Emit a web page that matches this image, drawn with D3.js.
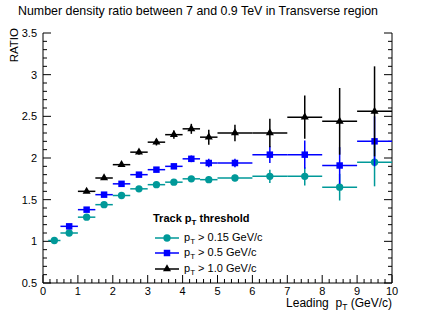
<!DOCTYPE html>
<html>
<head>
<style>
  body { margin: 0; background: #fff; }
  text { font-family: "Liberation Sans", Arial, Helvetica, sans-serif; fill: #000; }
</style>
</head>
<body>
<svg id="chart" width="436" height="316"></svg>
<script src="https://cdn.jsdelivr.net/npm/d3@7"></script>
<script>
// bin edges in leading pT (GeV/c)
const binEdges = [0.15, 0.5, 1, 1.5, 2, 2.5, 3, 3.5, 4, 4.5, 5, 6, 7, 8, 9, 10]

// ratio values per threshold, starting at a bin index
const tealStart = 0
const tealVals = [1.01, 1.10, 1.29, 1.44, 1.55, 1.63, 1.68, 1.71, 1.75, 1.74, 1.76, 1.78, 1.78, 1.65, 1.95]
const tealErr  = [0.01, 0.01, 0.015, 0.015, 0.02, 0.02, 0.02, 0.025, 0.03, 0.04, 0.04, 0.08, 0.11, 0.16, 0.29]

const blueStart = 1
const blueVals = [1.18, 1.38, 1.56, 1.69, 1.80, 1.86, 1.90, 1.99, 1.94, 1.94, 2.04, 2.04, 1.91, 2.20]
const blueErr  = [0.015, 0.02, 0.02, 0.025, 0.025, 0.03, 0.03, 0.04, 0.05, 0.05, 0.1, 0.17, 0.22, 0.3]

const blackStart = 2
const blackVals = [1.60, 1.76, 1.92, 2.07, 2.19, 2.28, 2.35, 2.25, 2.30, 2.30, 2.49, 2.44, 2.56]
const blackErr  = [0.02, 0.02, 0.025, 0.03, 0.04, 0.05, 0.06, 0.09, 0.1, 0.17, 0.26, 0.4, 0.54]

const legendLabels = ['> 0.15 GeV/c', '> 0.5 GeV/c', '> 1.0 GeV/c']

const svg = d3.select('#chart')

const x = d3.scaleLinear().domain([0, 10]).range([43, 392])
const y = d3.scaleLinear().domain([0.5, 3.5]).range([283, 33])

// title
svg.append('text')
  .attr('x', 18).attr('y', 15)
  .style('font-size', '12.4px')
  .text('Number density ratio between 7 and 0.9 TeV in Transverse region')

// axes (ROOT style, ticks inside)
const axisG = svg.append('g')

// bottom
axisG.append('line').attr('x1', x(0)).attr('x2', x(10)).attr('y1', y(0.5)).attr('y2', y(0.5)).attr('stroke', '#000')
d3.range(0, 10.001, 0.2).forEach(v => {
  const major = Math.abs(v - Math.round(v)) < 1e-6
  axisG.append('line')
    .attr('x1', x(v)).attr('x2', x(v))
    .attr('y1', y(0.5)).attr('y2', y(0.5) - (major ? 8 : 4))
    .attr('stroke', '#000')
})
d3.range(0, 11).forEach(v => {
  axisG.append('text')
    .attr('x', x(v)).attr('y', 295)
    .attr('text-anchor', 'middle')
    .style('font-size', '11px')
    .text(v)
})

// left + right
;[x(0), x(10)].forEach((px, side) => {
  axisG.append('line').attr('x1', px).attr('x2', px).attr('y1', y(0.5)).attr('y2', y(3.5)).attr('stroke', '#000')
  d3.range(5, 36).forEach(i => {
    const v = i / 10
    const major = i % 5 === 0
    const len = major ? 8 : 4
    axisG.append('line')
      .attr('x1', px).attr('x2', side === 0 ? px + len : px - len)
      .attr('y1', y(v)).attr('y2', y(v))
      .attr('stroke', '#000')
  })
})
;[0.5, 1, 1.5, 2, 2.5, 3, 3.5].forEach(v => {
  axisG.append('text')
    .attr('x', 37).attr('y', y(v) + 4)
    .attr('text-anchor', 'end')
    .style('font-size', '11px')
    .text(v)
})

// axis titles
svg.append('text')
  .attr('transform', 'translate(18,28) rotate(-90)')
  .attr('text-anchor', 'end')
  .style('font-size', '11.5px')
  .text('RATIO')

const xt = svg.append('text')
  .attr('x', 392).attr('y', 307)
  .attr('text-anchor', 'end')
  .style('font-size', '12px')
  .style('white-space', 'pre')
xt.append('tspan').text('Leading  p')
xt.append('tspan').attr('dy', 3).style('font-size', '8.5px').text('T')
xt.append('tspan').attr('dy', -3).text(' (GeV/c)')

// series
const series = [
  { start: tealStart, vals: tealVals, err: tealErr, color: '#009999', shape: d3.symbolCircle, size: 42 },
  { start: blueStart, vals: blueVals, err: blueErr, color: '#0000ff', shape: d3.symbolSquare, size: 42 },
  { start: blackStart, vals: blackVals, err: blackErr, color: '#000000', shape: d3.symbolTriangle, size: 28 }
]

series.forEach(s => {
  const pts = s.vals.map((v, i) => {
    const b = s.start + i
    return { lo: binEdges[b], hi: binEdges[b + 1], v: v, e: s.err[i] }
  })
  const g = svg.append('g')
  g.selectAll('line.h').data(pts).join('line')
    .attr('x1', d => x(d.lo)).attr('x2', d => x(d.hi))
    .attr('y1', d => y(d.v)).attr('y2', d => y(d.v))
    .attr('stroke', s.color).attr('stroke-width', 1.5)
  g.selectAll('line.v').data(pts).join('line')
    .attr('x1', d => x((d.lo + d.hi) / 2)).attr('x2', d => x((d.lo + d.hi) / 2))
    .attr('y1', d => y(d.v - d.e)).attr('y2', d => y(d.v + d.e))
    .attr('stroke', s.color).attr('stroke-width', 1.5)
  g.selectAll('path').data(pts).join('path')
    .attr('d', d3.symbol().type(s.shape).size(s.size))
    .attr('transform', d => `translate(${x((d.lo + d.hi) / 2)},${y(d.v)})`)
    .attr('fill', s.color)
})

// legend
const leg = svg.append('g')
const lt = leg.append('text').attr('x', 153).attr('y', 222)
  .style('font-size', '11px').style('font-weight', 'bold')
lt.append('tspan').text('Track p')
lt.append('tspan').attr('dy', 3).style('font-size', '8px').text('T')
lt.append('tspan').attr('dy', -3).text(' threshold')

const rowsY = [238, 253, 269]
series.forEach((s, i) => {
  leg.append('line').attr('x1', 155).attr('x2', 179).attr('y1', rowsY[i]).attr('y2', rowsY[i])
    .attr('stroke', s.color).attr('stroke-width', 1.5)
  leg.append('path')
    .attr('d', d3.symbol().type(s.shape).size(s.size)())
    .attr('transform', `translate(167,${rowsY[i]})`)
    .attr('fill', s.color)
  const t = leg.append('text').attr('x', 184).attr('y', rowsY[i] + 3)
    .style('font-size', '11px')
  t.append('tspan').text('p')
  t.append('tspan').attr('dy', 3).style('font-size', '8px').text('T')
  t.append('tspan').attr('dy', -3).text(' ' + legendLabels[i])
})
</script>
</body>
</html>
